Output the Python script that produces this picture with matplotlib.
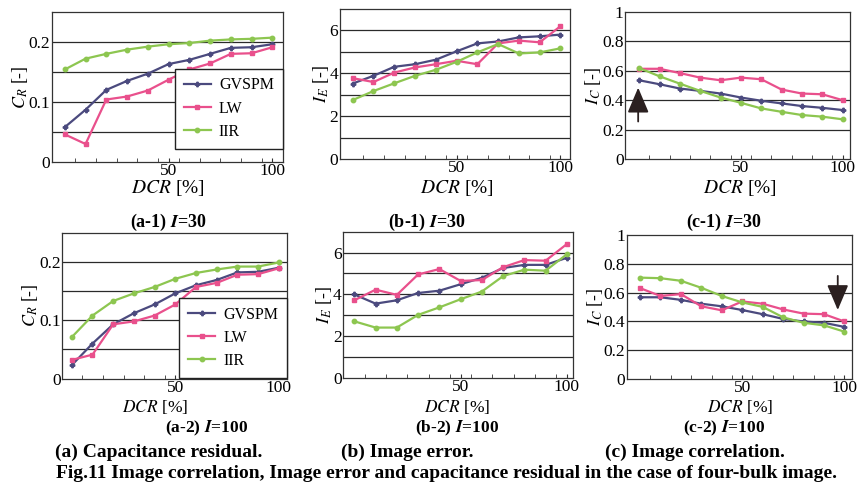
import matplotlib.pyplot as plt

plt.rcParams['font.family'] = ['Liberation Serif', 'DejaVu Serif']
plt.rcParams['mathtext.fontset'] = 'stix'

dcr = [0, 10, 20, 30, 40, 50, 60, 70, 80, 90, 100]
methods = ["GVSPM", "LW", "IIR"]
colors = {"GVSPM": "#4b4a7e", "LW": "#e9508c", "IIR": "#8dc650"}
markers = {"GVSPM": "P", "LW": "s", "IIR": "o"}

# (a-1) capacitance residual, I=30
cr_30 = {
    "GVSPM": [0.058, 0.087, 0.120, 0.135, 0.147, 0.163, 0.170, 0.180, 0.190, 0.191, 0.196],
    "LW":    [0.046, 0.030, 0.104, 0.109, 0.119, 0.137, 0.154, 0.164, 0.180, 0.181, 0.191],
    "IIR":   [0.154, 0.172, 0.180, 0.187, 0.192, 0.196, 0.198, 0.202, 0.204, 0.205, 0.207],
}
# (b-1) image error, I=30
ie_30 = {
    "GVSPM": [3.52, 3.88, 4.30, 4.42, 4.63, 5.02, 5.39, 5.48, 5.67, 5.72, 5.80],
    "LW":    [3.77, 3.59, 4.03, 4.27, 4.42, 4.58, 4.42, 5.39, 5.52, 5.44, 6.19],
    "IIR":   [2.75, 3.17, 3.53, 3.88, 4.16, 4.53, 4.97, 5.36, 4.92, 4.97, 5.16],
}
# (c-1) image correlation, I=30
ic_30 = {
    "GVSPM": [0.535, 0.508, 0.479, 0.463, 0.445, 0.418, 0.396, 0.378, 0.360, 0.348, 0.333],
    "LW":    [0.613, 0.613, 0.584, 0.553, 0.535, 0.553, 0.542, 0.472, 0.445, 0.440, 0.400],
    "IIR":   [0.618, 0.562, 0.512, 0.463, 0.418, 0.382, 0.344, 0.321, 0.299, 0.288, 0.270],
}
# (a-2) capacitance residual, I=100
cr_100 = {
    "GVSPM": [0.023, 0.060, 0.093, 0.112, 0.127, 0.146, 0.160, 0.169, 0.182, 0.183, 0.190],
    "LW":    [0.032, 0.041, 0.093, 0.098, 0.108, 0.127, 0.157, 0.164, 0.178, 0.179, 0.189],
    "IIR":   [0.071, 0.108, 0.133, 0.146, 0.157, 0.171, 0.181, 0.187, 0.192, 0.192, 0.199],
}
# (b-2) image error, I=100
ie_100 = {
    "GVSPM": [3.99, 3.55, 3.71, 4.06, 4.17, 4.48, 4.79, 5.26, 5.41, 5.41, 5.75],
    "LW":    [3.71, 4.22, 3.97, 4.95, 5.21, 4.64, 4.68, 5.30, 5.64, 5.61, 6.41],
    "IIR":   [2.70, 2.40, 2.40, 3.01, 3.37, 3.76, 4.13, 4.87, 5.18, 5.13, 5.92],
}
# (c-2) image correlation, I=100
ic_100 = {
    "GVSPM": [0.567, 0.567, 0.549, 0.522, 0.504, 0.478, 0.449, 0.416, 0.398, 0.389, 0.360],
    "LW":    [0.631, 0.576, 0.589, 0.504, 0.476, 0.538, 0.522, 0.482, 0.453, 0.449, 0.398],
    "IIR":   [0.704, 0.700, 0.682, 0.633, 0.576, 0.531, 0.500, 0.427, 0.389, 0.371, 0.327],
}

fig = plt.figure(figsize=(8.62, 4.91), dpi=100)


def panel(rect, data, ylim, yticks, ylabels, grid, ylabel, xlim, legend_y=None):
    ax = fig.add_axes(rect)
    for y in grid:
        ax.axhline(y, color="#2a2a2a", lw=0.9, zorder=1)
    for m in methods:
        ax.plot(dcr, data[m], color=colors[m], marker=markers[m], ms=3.2,
                lw=1.6, label=m, zorder=3)
    ax.set_xlim(xlim)
    ax.set_ylim(ylim)
    ax.set_yticks(yticks)
    ax.set_yticklabels(ylabels)
    ax.set_xticks([50, 100])
    ax.set_xticks([5, 15, 25, 35, 45, 55, 65, 75, 85, 95], minor=True)
    ax.tick_params(axis="both", which="both", direction="in", labelsize=12.5,
                   length=3, color="#333", pad=1)
    ax.tick_params(axis="y", length=0)
    for s in ax.spines.values():
        s.set_color("#333")
        s.set_linewidth(0.9)
    ax.set_ylabel(ylabel, fontsize=13, labelpad=-1)
    if legend_y is not None:
        leg = ax.legend(loc="lower right", bbox_to_anchor=(1.0, legend_y),
                        fontsize=11.5, frameon=True, fancybox=False, framealpha=1,
                        edgecolor="#222", handlelength=1.7, borderpad=0.55,
                        labelspacing=0.45, borderaxespad=0.0, handletextpad=0.5)
        leg.get_frame().set_linewidth(1.0)
        leg.set_zorder(10)
    return ax


cr_ticks = ([0, 0.1, 0.2], ["0", "0.1", "0.2"], [0.05, 0.1, 0.15, 0.2])
ie_ticks = ([0, 2, 4, 6], ["0", "2", "4", "6"], [1, 2, 3, 4, 5, 6])
ic_ticks = ([0, 0.2, 0.4, 0.6, 0.8, 1], ["0", "0.2", "0.4", "0.6", "0.8", "1"],
            [0.2, 0.4, 0.6, 0.8])

panel([0.060, 0.670, 0.268, 0.306], cr_30, (0, 0.25), *cr_ticks,
      "$C_R$ [-]", (-6.3, 105), legend_y=0.09)
panel([0.394, 0.676, 0.267, 0.306], ie_30, (0, 7), *ie_ticks,
      "$I_E$ [-]", (-6.3, 104.5))
ax_c1 = panel([0.725, 0.676, 0.261, 0.300], ic_30, (0, 1), *ic_ticks,
              "$I_C$ [-]", (-7, 103.6))
panel([0.072, 0.229, 0.261, 0.297], cr_100, (0, 0.25), *cr_ticks,
      "$C_R$ [-]", (-4.7, 104), legend_y=0.005)
panel([0.398, 0.231, 0.267, 0.297], ie_100, (0, 7), *ie_ticks,
      "$I_E$ [-]", (-5.3, 103))
ax_c2 = panel([0.727, 0.229, 0.261, 0.292], ic_100, (0, 1), *ic_ticks,
              "$I_C$ [-]", (-6.5, 103.5))

arrow = dict(arrowstyle="-|>,head_length=1.3,head_width=0.55",
             color="#2b2020", lw=1.3, mutation_scale=12, shrinkA=0, shrinkB=0)
ax_c1.annotate("", xy=(-0.5, 0.485), xytext=(-0.5, 0.255), arrowprops=arrow)
ax_c2.annotate("", xy=(96.7, 0.478), xytext=(96.7, 0.716), arrowprops=arrow)

# x labels and sub captions (they crowd each other in the original scan too)
for xc in [0.195, 0.53, 0.858]:
    fig.text(xc, 1 - 188 / 491, "$DCR$ [%]", ha="center", va="center", fontsize=14)
for xc, lab in [(0.195, "(a-1) $\\boldsymbol{I}$=30"), (0.495, "(b-1) $\\boldsymbol{I}$=30"),
                (0.84, "(c-1) $\\boldsymbol{I}$=30")]:
    fig.text(xc, 1 - 222 / 491, lab, ha="center", va="center", fontsize=13,
             fontweight="bold")
for xc in [0.180, 0.53, 0.858]:
    fig.text(xc, 1 - 407 / 491, "$DCR$ [%]", ha="center", va="center", fontsize=12.5)
for xc, lab in [(0.24, "(a-2) $\\boldsymbol{I}$=100"), (0.53, "(b-2) $\\boldsymbol{I}$=100"),
                (0.84, "(c-2) $\\boldsymbol{I}$=100")]:
    fig.text(xc, 1 - 428 / 491, lab, ha="center", va="center", fontsize=12.5,
             fontweight="bold")

fig.text(0.184, 1 - 452 / 491, "(a) Capacitance residual.", ha="center", va="center",
         fontsize=14, fontweight="bold")
fig.text(0.473, 1 - 452 / 491, "(b) Image error.", ha="center", va="center",
         fontsize=14, fontweight="bold")
fig.text(0.806, 1 - 452 / 491, "(c) Image correlation.", ha="center", va="center",
         fontsize=14, fontweight="bold")
fig.text(0.518, 1 - 474 / 491,
         "Fig.11 Image correlation, Image error and capacitance residual in the case of four-bulk image.",
         ha="center", va="center", fontsize=14, fontweight="bold")

fig.savefig("out.png", dpi=100)
